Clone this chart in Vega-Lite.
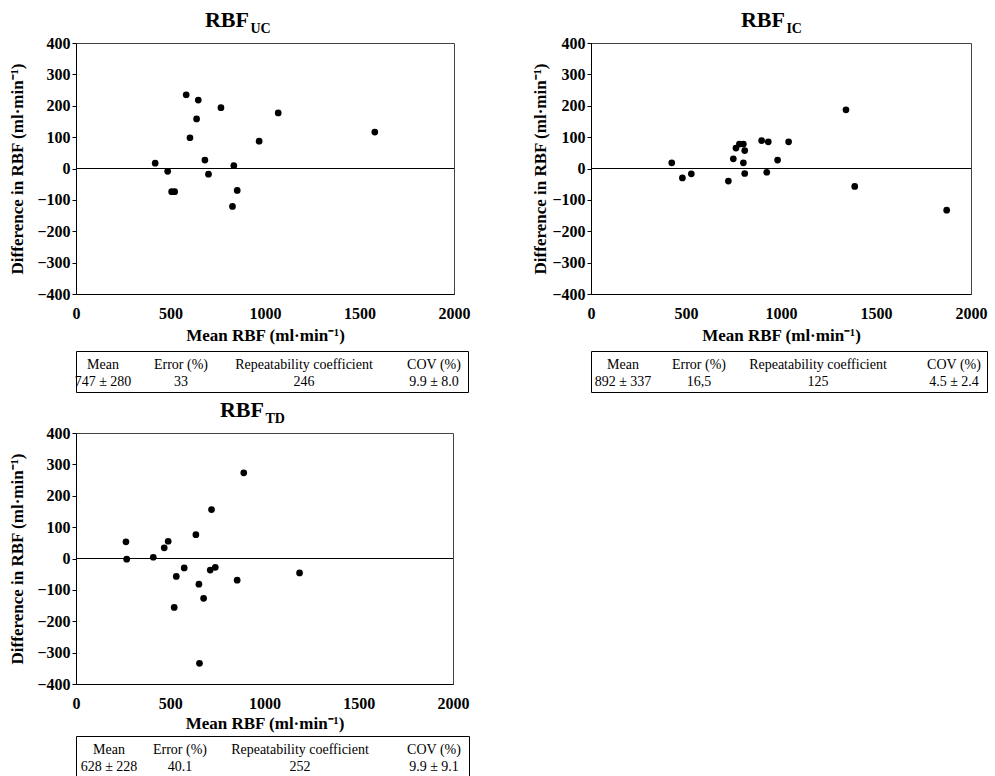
{
  "$schema": "https://vega.github.io/schema/vega-lite/v6.json",
  "background": "white",
  "padding": {"left": 8, "top": 8, "right": 0, "bottom": 0},
  "config": {
    "font": "Liberation Serif",
    "style": {"guide-label": {"font": "Liberation Serif", "fontWeight": "bold"}, "guide-title": {"font": "Liberation Serif", "fontWeight": "bold"}},
    "view": {"stroke": "#444", "strokeWidth": 1},
    "axis": {"labelFont": "Liberation Serif", "labelFontWeight": "bold", "labelFontSize": 16, "labelColor": "black",
             "titleFont": "Liberation Serif", "titleFontWeight": "bold", "titleFontSize": 17, "titleColor": "black",
             "domainColor": "black", "tickColor": "black", "grid": false, "labelOverlap": false, "format": "d"},
    "title": {"font": "Liberation Serif", "fontSize": 22, "fontWeight": "bold", "color": "black",
              "subtitleFont": "Liberation Serif", "subtitleFontSize": 14, "subtitleFontWeight": "bold", "subtitleColor": "black",
              "anchor": "start", "offset": -2, "subtitlePadding": -10}
  },
  "datasets": {
    "uc": [
      {"m": 419, "d": 17}, {"m": 485, "d": -9}, {"m": 506, "d": -74}, {"m": 522, "d": -74}, {"m": 583, "d": 235},
      {"m": 603, "d": 98}, {"m": 638, "d": 158}, {"m": 647, "d": 218}, {"m": 682, "d": 27}, {"m": 701, "d": -18},
      {"m": 767, "d": 194}, {"m": 828, "d": -121}, {"m": 835, "d": 9}, {"m": 853, "d": -70}, {"m": 969, "d": 87},
      {"m": 1070, "d": 177}, {"m": 1581, "d": 116}
    ],
    "ic": [
      {"m": 425, "d": 18}, {"m": 481, "d": -30}, {"m": 528, "d": -17}, {"m": 723, "d": -40}, {"m": 749, "d": 31},
      {"m": 763, "d": 65}, {"m": 781, "d": 78}, {"m": 802, "d": 78}, {"m": 802, "d": 18}, {"m": 809, "d": 57},
      {"m": 809, "d": -16}, {"m": 898, "d": 89}, {"m": 925, "d": -12}, {"m": 933, "d": 85}, {"m": 982, "d": 27},
      {"m": 1040, "d": 85}, {"m": 1342, "d": 187}, {"m": 1388, "d": -57}, {"m": 1872, "d": -133}
    ],
    "td": [
      {"m": 265, "d": 53}, {"m": 269, "d": -2}, {"m": 410, "d": 4}, {"m": 468, "d": 34}, {"m": 489, "d": 55},
      {"m": 521, "d": -156}, {"m": 532, "d": -57}, {"m": 574, "d": -30}, {"m": 636, "d": 76}, {"m": 652, "d": -82},
      {"m": 655, "d": -334}, {"m": 677, "d": -127}, {"m": 712, "d": -37}, {"m": 719, "d": 156}, {"m": 739, "d": -28},
      {"m": 855, "d": -69}, {"m": 890, "d": 273}, {"m": 1186, "d": -46}
    ],
    "t1": [
      {"col": 1, "row": 1, "txt": "Mean"}, {"col": 2, "row": 1, "txt": "Error (%)"}, {"col": 3, "row": 1, "txt": "Repeatability coefficient"}, {"col": 4, "row": 1, "txt": "COV (%)"},
      {"col": 1, "row": 2, "txt": "747 ± 280"}, {"col": 2, "row": 2, "txt": "33"}, {"col": 3, "row": 2, "txt": "246"}, {"col": 4, "row": 2, "txt": "9.9 ± 8.0"}
    ],
    "t2": [
      {"col": 1, "row": 1, "txt": "Mean"}, {"col": 2, "row": 1, "txt": "Error (%)"}, {"col": 3, "row": 1, "txt": "Repeatability coefficient"}, {"col": 4, "row": 1, "txt": "COV (%)"},
      {"col": 1, "row": 2, "txt": "892 ± 337"}, {"col": 2, "row": 2, "txt": "16,5"}, {"col": 3, "row": 2, "txt": "125"}, {"col": 4, "row": 2, "txt": "4.5 ± 2.4"}
    ],
    "t3": [
      {"col": 1, "row": 1, "txt": "Mean"}, {"col": 2, "row": 1, "txt": "Error (%)"}, {"col": 3, "row": 1, "txt": "Repeatability coefficient"}, {"col": 4, "row": 1, "txt": "COV (%)"},
      {"col": 1, "row": 2, "txt": "628 ± 228"}, {"col": 2, "row": 2, "txt": "40.1"}, {"col": 3, "row": 2, "txt": "252"}, {"col": 4, "row": 2, "txt": "9.9 ± 9.1"}
    ]
  },
  "vconcat": [
    {
      "hconcat": [
        {
          "vconcat": [
            {
              "title": {"text": "RBF", "subtitle": "\u200b\u00a0\u00a0\u00a0\u00a0\u00a0\u00a0\u00a0\u00a0\u00a0\u00a0\u00a0\u00a0\u00a0UC", "dx": 196},
              "width": 378, "height": 251,
              "data": {"name": "uc"},
              "layer": [
                {"mark": {"type": "point", "filled": true, "color": "black", "size": 45, "opacity": 1},
                 "encoding": {
                   "x": {"field": "m", "type": "quantitative", "scale": {"domain": [0, 2000], "nice": false},
                         "axis": {"values": [0, 500, 1000, 1500, 2000], "ticks": false, "tickSize": 0, "labelPadding": 11, "titlePadding": 6, "labelFlush": false, "labelOverlap": false, "labelFont": "Liberation Serif", "titleFont": "Liberation Serif", "title": "Mean RBF (ml·min⁻¹)"}},
                   "y": {"field": "d", "type": "quantitative", "scale": {"domain": [-400, 400], "nice": false},
                         "axis": {"values": [-400, -300, -200, -100, 0, 100, 200, 300, 400], "tickSize": 4, "labelPadding": 2, "titlePadding": 10, "labelFlush": false, "labelOverlap": false, "labelFont": "Liberation Serif", "titleFont": "Liberation Serif", "title": "Difference in RBF (ml·min⁻¹)"}}
                 }},
                {"mark": {"type": "rule", "color": "black", "strokeWidth": 1},
                 "encoding": {"y": {"datum": 0, "type": "quantitative",
                   "axis": {"values": [-400, -300, -200, -100, 0, 100, 200, 300, 400], "tickSize": 4, "labelPadding": 2, "titlePadding": 10, "labelFlush": false, "labelOverlap": false, "labelFont": "Liberation Serif", "titleFont": "Liberation Serif", "title": "Difference in RBF (ml·min⁻¹)"}}}}
              ]
            },
            {
              "width": 392, "height": 41,
              "data": {"name": "t1"},
              "view": {"stroke": "black", "strokeWidth": 1},
              "mark": {"type": "text", "font": "Liberation Serif", "fontSize": 14, "color": "black", "baseline": "middle"},
              "encoding": {
                "x": {"field": "col", "type": "quantitative", "scale": {"domain": [1, 2, 3, 4], "range": [27, 105, 228, 358]}, "axis": null},
                "y": {"field": "row", "type": "quantitative", "scale": {"domain": [1, 2], "range": [14, 31]}, "axis": null},
                "text": {"field": "txt"}
              }
            }
          ],
          "spacing": 6
        },
        {
          "vconcat": [
            {
              "title": {"text": "RBF", "subtitle": "\u200b\u00a0\u00a0\u00a0\u00a0\u00a0\u00a0\u00a0\u00a0\u00a0\u00a0\u00a0\u00a0\u00a0IC", "dx": 209},
              "width": 380, "height": 251,
              "data": {"name": "ic"},
              "layer": [
                {"mark": {"type": "point", "filled": true, "color": "black", "size": 45, "opacity": 1},
                 "encoding": {
                   "x": {"field": "m", "type": "quantitative", "scale": {"domain": [0, 2000], "nice": false},
                         "axis": {"values": [0, 500, 1000, 1500, 2000], "ticks": false, "tickSize": 0, "labelPadding": 11, "titlePadding": 6, "labelFlush": false, "labelOverlap": false, "labelFont": "Liberation Serif", "titleFont": "Liberation Serif", "title": "Mean RBF (ml·min⁻¹)"}},
                   "y": {"field": "d", "type": "quantitative", "scale": {"domain": [-400, 400], "nice": false},
                         "axis": {"values": [-400, -300, -200, -100, 0, 100, 200, 300, 400], "tickSize": 4, "labelPadding": 2, "titlePadding": 2, "labelFlush": false, "labelOverlap": false, "labelFont": "Liberation Serif", "titleFont": "Liberation Serif", "title": "Difference in RBF (ml·min⁻¹)"}}
                 }},
                {"mark": {"type": "rule", "color": "black", "strokeWidth": 1},
                 "encoding": {"y": {"datum": 0, "type": "quantitative",
                   "axis": {"values": [-400, -300, -200, -100, 0, 100, 200, 300, 400], "tickSize": 4, "labelPadding": 2, "titlePadding": 2, "labelFlush": false, "labelOverlap": false, "labelFont": "Liberation Serif", "titleFont": "Liberation Serif", "title": "Difference in RBF (ml·min⁻¹)"}}}}
              ]
            },
            {
              "width": 396, "height": 41,
              "data": {"name": "t2"},
              "view": {"stroke": "black", "strokeWidth": 1},
              "mark": {"type": "text", "font": "Liberation Serif", "fontSize": 14, "color": "black", "baseline": "middle"},
              "encoding": {
                "x": {"field": "col", "type": "quantitative", "scale": {"domain": [1, 2, 3, 4], "range": [32, 108, 227, 363]}, "axis": null},
                "y": {"field": "row", "type": "quantitative", "scale": {"domain": [1, 2], "range": [14, 31]}, "axis": null},
                "text": {"field": "txt"}
              }
            }
          ],
          "spacing": 6
        }
      ],
      "spacing": 60
    },
    {
      "vconcat": [
        {
          "title": {"text": "RBF", "subtitle": "\u200b\u00a0\u00a0\u00a0\u00a0\u00a0\u00a0\u00a0\u00a0\u00a0\u00a0\u00a0\u00a0\u00a0TD", "dx": 211},
          "width": 377, "height": 251,
          "data": {"name": "td"},
          "layer": [
            {"mark": {"type": "point", "filled": true, "color": "black", "size": 45, "opacity": 1},
             "encoding": {
               "x": {"field": "m", "type": "quantitative", "scale": {"domain": [0, 2000], "nice": false},
                     "axis": {"values": [0, 500, 1000, 1500, 2000], "ticks": false, "tickSize": 0, "labelPadding": 11, "titlePadding": 4, "labelFlush": false, "labelOverlap": false, "labelFont": "Liberation Serif", "titleFont": "Liberation Serif", "title": "Mean RBF (ml·min⁻¹)"}},
               "y": {"field": "d", "type": "quantitative", "scale": {"domain": [-400, 400], "nice": false},
                     "axis": {"values": [-400, -300, -200, -100, 0, 100, 200, 300, 400], "tickSize": 4, "labelPadding": 2, "titlePadding": 10, "labelFlush": false, "labelOverlap": false, "labelFont": "Liberation Serif", "titleFont": "Liberation Serif", "title": "Difference in RBF (ml·min⁻¹)"}}
             }},
            {"mark": {"type": "rule", "color": "black", "strokeWidth": 1},
             "encoding": {"y": {"datum": 0, "type": "quantitative",
               "axis": {"values": [-400, -300, -200, -100, 0, 100, 200, 300, 400], "tickSize": 4, "labelPadding": 2, "titlePadding": 10, "labelFlush": false, "labelOverlap": false, "labelFont": "Liberation Serif", "titleFont": "Liberation Serif", "title": "Difference in RBF (ml·min⁻¹)"}}}}
          ]
        },
        {
          "width": 393, "height": 41,
          "data": {"name": "t3"},
          "view": {"stroke": "black", "strokeWidth": 1},
          "mark": {"type": "text", "font": "Liberation Serif", "fontSize": 14, "color": "black", "baseline": "middle"},
          "encoding": {
            "x": {"field": "col", "type": "quantitative", "scale": {"domain": [1, 2, 3, 4], "range": [33, 104, 224, 358]}, "axis": null},
            "y": {"field": "row", "type": "quantitative", "scale": {"domain": [1, 2], "range": [14, 31]}, "axis": null},
            "text": {"field": "txt"}
          }
        }
      ],
      "spacing": 3
    }
  ],
  "spacing": 5
}
